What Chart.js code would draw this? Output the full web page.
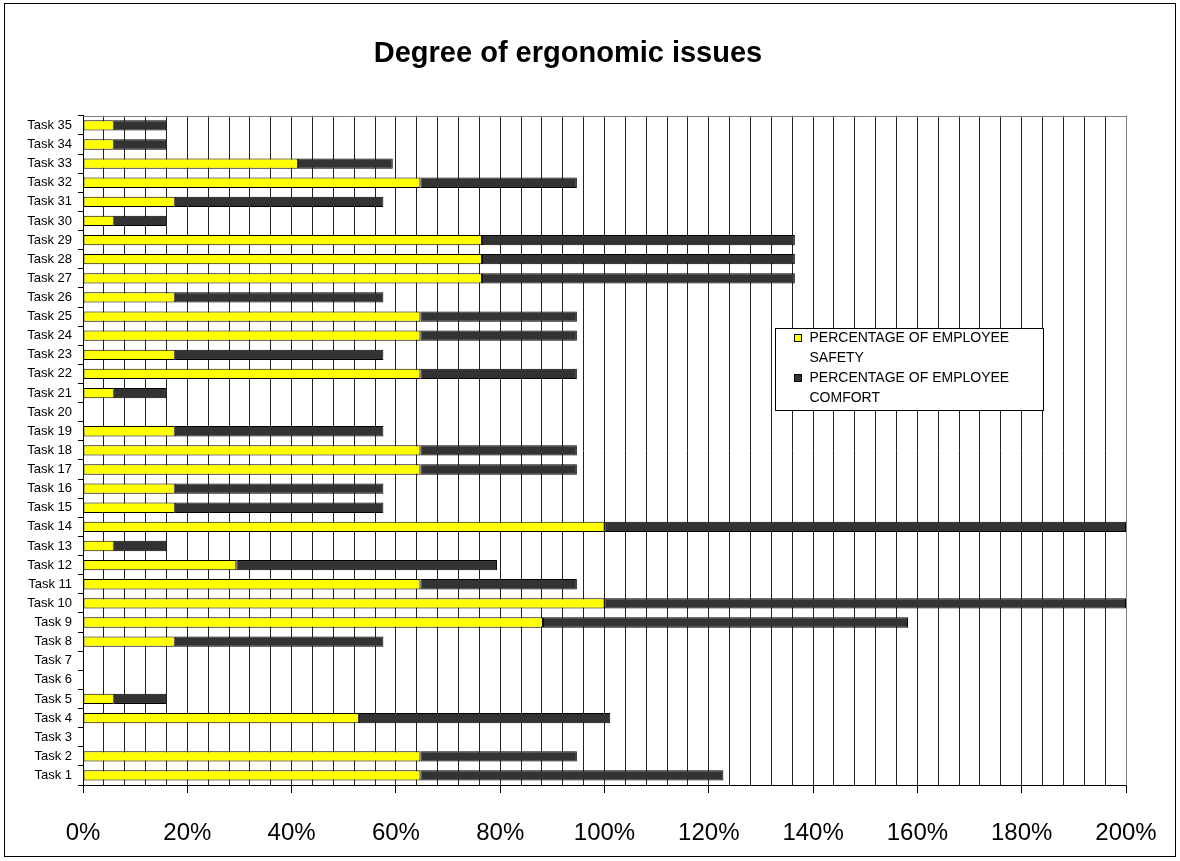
<!DOCTYPE html>
<html>
<head>
<meta charset="utf-8">
<title>Degree of ergonomic issues</title>
<script src="https://cdn.jsdelivr.net/npm/chart.js@4.4.1/dist/chart.umd.min.js"></script>
<style>
  html, body { margin: 0; padding: 0; background: #fff; }
  canvas { display: block; }
</style>
</head>
<body>
<canvas id="chart" width="1180" height="861"></canvas>
<script>
const tasks = [
  'Task 1', 'Task 2', 'Task 3', 'Task 4', 'Task 5', 'Task 6', 'Task 7',
  'Task 8', 'Task 9', 'Task 10', 'Task 11', 'Task 12', 'Task 13', 'Task 14',
  'Task 15', 'Task 16', 'Task 17', 'Task 18', 'Task 19', 'Task 20', 'Task 21',
  'Task 22', 'Task 23', 'Task 24', 'Task 25', 'Task 26', 'Task 27', 'Task 28',
  'Task 29', 'Task 30', 'Task 31', 'Task 32', 'Task 33', 'Task 34', 'Task 35'
];

// % of employee safety per task
const safety = [
  64.7, 64.7, 0, 52.9, 5.9, 0, 0,
  17.6, 88.2, 100, 64.7, 29.4, 5.9, 100,
  17.6, 17.6, 64.7, 64.7, 17.6, 0, 5.9,
  64.7, 17.6, 64.7, 64.7, 17.6, 76.5, 76.5,
  76.5, 5.9, 17.6, 64.7, 41.2, 5.9, 5.9
];

// % of employee comfort per task
const comfort = [
  58.1, 30, 0, 48.2, 10, 0, 0,
  40, 70, 100, 30, 50, 10, 100,
  40, 40, 30, 30, 40, 0, 10,
  30, 40, 30, 30, 40, 60, 60,
  60, 10, 40, 30, 18.2, 10, 10
];

const seriesNames = [
  ['PERCENTAGE OF EMPLOYEE', 'SAFETY'],
  ['PERCENTAGE OF EMPLOYEE', 'COMFORT']
];

const xMax = 200;
const xLabelStep = 20;
const xGridStep = 4;

const FONT = "'Liberation Sans', Arial, Helvetica, sans-serif";

// white page, grey plot frame, outer border and boxed legend
const framePlugin = {
  id: 'frame',
  beforeDraw(chart) {
    const ctx = chart.ctx;
    ctx.save();
    ctx.fillStyle = '#fff';
    ctx.fillRect(0, 0, chart.width, chart.height);
    ctx.restore();
  },
  afterDraw(chart) {
    const ctx = chart.ctx;
    const a = chart.chartArea;
    ctx.save();

    // plot area top and right edges
    ctx.strokeStyle = '#808080';
    ctx.lineWidth = 1;
    ctx.beginPath();
    ctx.moveTo(Math.round(a.left) + 0.5, Math.round(a.top) + 0.5);
    ctx.lineTo(Math.round(a.right) + 0.5, Math.round(a.top) + 0.5);
    ctx.lineTo(Math.round(a.right) + 0.5, Math.round(a.bottom) + 0.5);
    ctx.stroke();

    // outer border
    ctx.strokeStyle = '#000';
    ctx.strokeRect(4.5, 3.5, chart.width - 9, chart.height - 8);

    // legend box
    const lx = 775.5, ly = 328.5, lw = 268, lh = 82;
    ctx.fillStyle = '#fff';
    ctx.fillRect(lx, ly, lw, lh);
    ctx.strokeStyle = '#000';
    ctx.strokeRect(lx, ly, lw, lh);

    ctx.font = '14px ' + FONT;
    ctx.textBaseline = 'middle';
    ctx.textAlign = 'left';
    chart.data.datasets.forEach((ds, i) => {
      const rowY = ly + 10 + i * 40;
      ctx.fillStyle = ds.backgroundColor;
      ctx.fillRect(lx + 19, rowY - 4, 7, 7);
      ctx.strokeStyle = '#000';
      ctx.strokeRect(lx + 19, rowY - 4, 7, 7);
      ctx.fillStyle = '#000';
      seriesNames[i].forEach((line, j) => {
        ctx.fillText(line, lx + 34, rowY + j * 20);
      });
    });
    ctx.restore();
  }
};

new Chart(document.getElementById('chart'), {
  type: 'bar',
  data: {
    labels: tasks,
    datasets: [
      {
        label: seriesNames[0].join(' '),
        data: safety,
        backgroundColor: '#ffff00',
        borderColor: '#000',
        borderWidth: (c) => (c.raw ? 1 : 0),
        borderSkipped: false,
        categoryPercentage: 1,
        barPercentage: 0.54
      },
      {
        label: seriesNames[1].join(' '),
        data: comfort,
        backgroundColor: '#333333',
        borderColor: '#000',
        borderWidth: (c) => (c.raw ? 1 : 0),
        borderSkipped: false,
        categoryPercentage: 1,
        barPercentage: 0.54
      }
    ]
  },
  options: {
    indexAxis: 'y',
    responsive: false,
    animation: false,
    devicePixelRatio: 1,
    layout: { padding: { left: 10, right: 54, top: 0, bottom: 0 } },
    plugins: {
      legend: { display: false },
      tooltip: { enabled: false },
      title: {
        display: true,
        text: 'Degree of ergonomic issues',
        color: '#000',
        font: { family: FONT, size: 29, weight: 'bold' },
        padding: { top: 37, bottom: 44 }
      }
    },
    scales: {
      x: {
        stacked: true,
        min: 0,
        max: xMax,
        grid: {
          color: '#222',
          lineWidth: 1,
          tickLength: 8,
          tickColor: (c) => (c.tick && c.tick.value % xLabelStep === 0 ? '#000' : 'rgba(0,0,0,0)')
        },
        border: { color: '#000' },
        ticks: {
          stepSize: xGridStep,
          autoSkip: false,
          maxRotation: 0,
          padding: 26,
          color: '#000',
          font: { family: FONT, size: 24 },
          callback: (v) => (v % xLabelStep === 0 ? v + '%' : '')
        },
        // fixed axis band; side room comes from the layout padding
        afterFit: (s) => {
          s.height = 76;
          s.paddingLeft = 0;
          s.paddingRight = 0;
        }
      },
      y: {
        stacked: true,
        reverse: true,
        grid: {
          offset: true,
          drawOnChartArea: false,
          drawTicks: true,
          tickLength: 5,
          color: '#000'
        },
        border: { color: '#000' },
        ticks: {
          autoSkip: false,
          padding: 6,
          color: '#000',
          font: { family: FONT, size: 13 }
        },
        afterFit: (s) => { s.width = 73; }
      }
    }
  },
  plugins: [framePlugin]
});
</script>
</body>
</html>
